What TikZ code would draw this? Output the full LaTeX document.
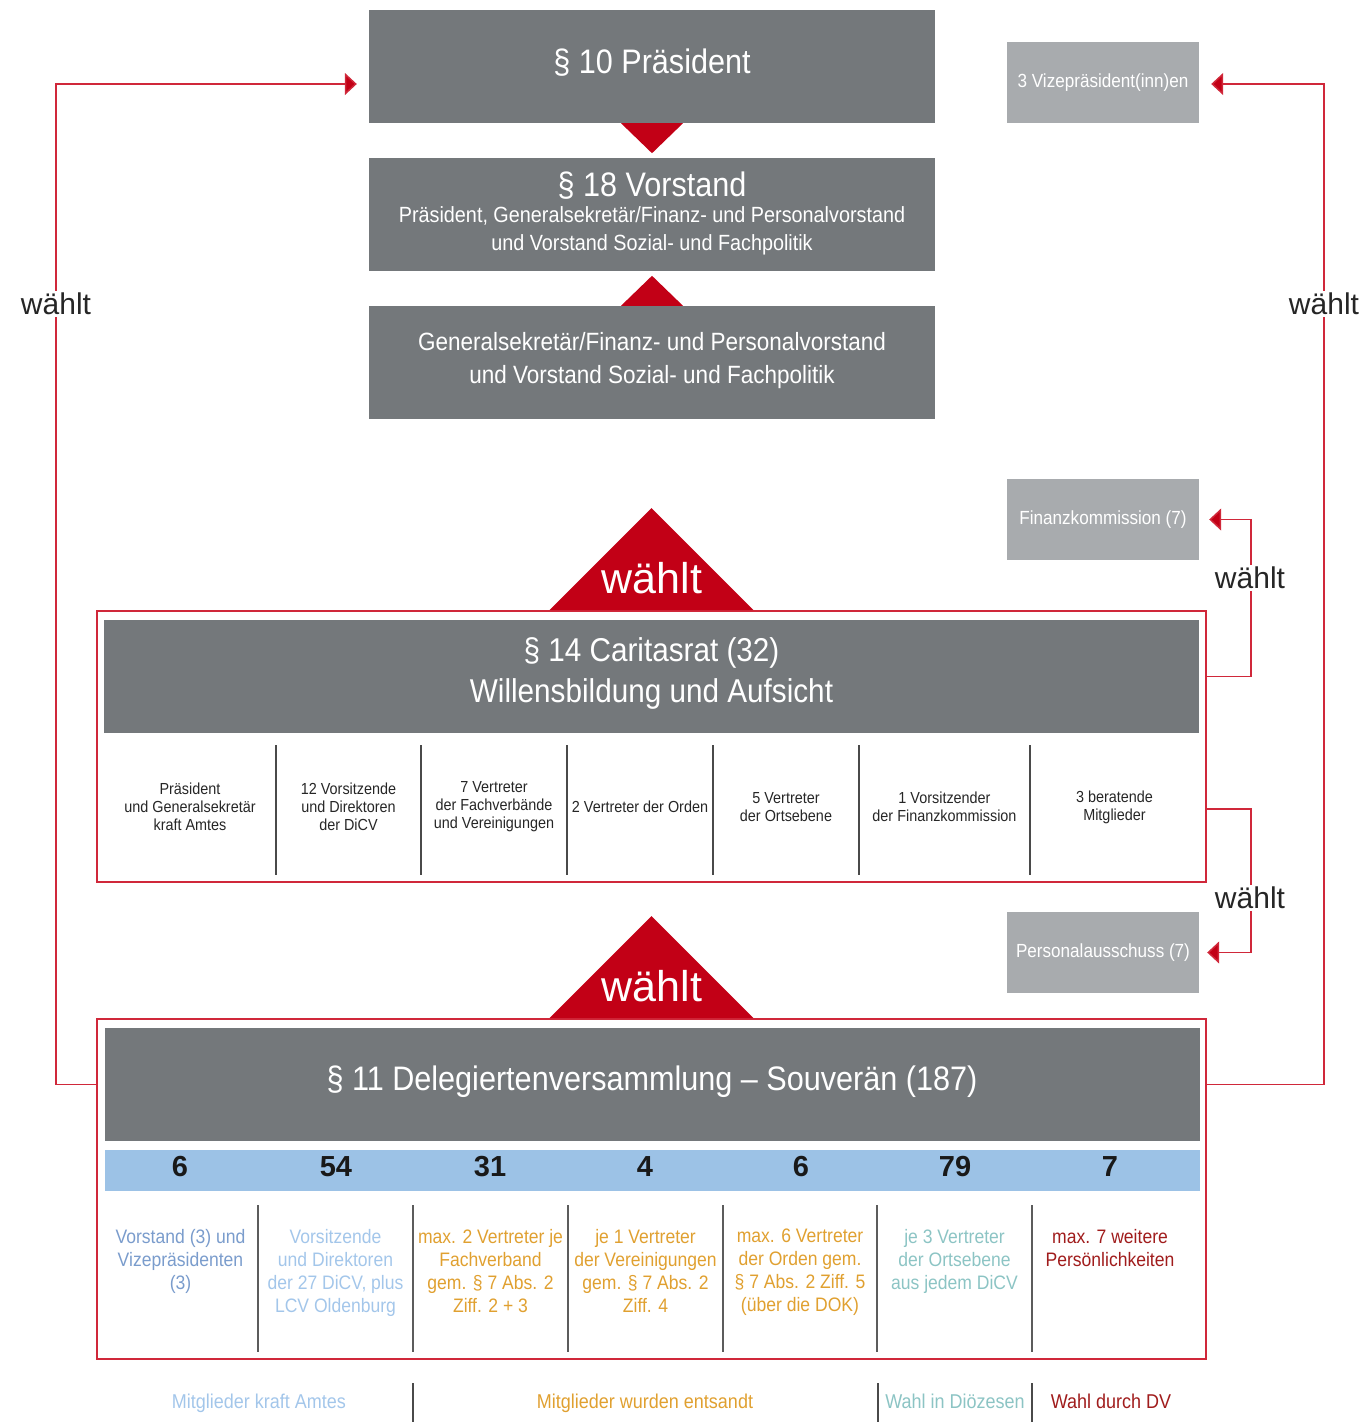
\documentclass[tikz,border=0pt]{standalone}
\usepackage{fontspec}
\setmainfont{Liberation Sans}[FakeStretch=0.9]
\newfontfamily\widefont{Liberation Sans}
\usetikzlibrary{arrows.meta,calc}
\definecolor{boxgray}{HTML}{74787B}
\definecolor{lightgray}{HTML}{A8ABAE}
\definecolor{redtri}{HTML}{C20016}
\definecolor{redline}{HTML}{D0283A}
\definecolor{bandblue}{HTML}{9CC2E6}
\definecolor{colblue}{HTML}{7A9CCC}
\definecolor{collblue}{HTML}{A3C6EA}
\definecolor{colorange}{HTML}{E0A030}
\definecolor{colteal}{HTML}{8CC4C4}
\definecolor{coldred}{HTML}{A01C1C}
\definecolor{sepgray}{HTML}{4A4A4A}
\begin{document}
\begin{tikzpicture}[x=1pt,y=-1pt,
  darkbox/.style={fill=boxgray, text=white, minimum width=566pt, minimum height=113pt, inner sep=0pt, align=center},
  lightbox/.style={fill=lightgray, text=white, minimum width=192pt, minimum height=81pt, inner sep=0pt, font=\fontsize{19}{22}\selectfont},
  wtext/.style={text=white, inner sep=0pt, align=center},
  frame/.style={draw=redline, line width=1.6pt, inner sep=0pt},
  conn/.style={draw=redline, line width=1.5pt, -{Triangle[length=12pt,width=22pt,fill=redtri]}},
  wlabel/.style={fill=white, inner sep=2pt, font=\widefont\fontsize{30}{34}\selectfont, text=black!85},
  tri/.style={fill=redtri},
  bigw/.style={text=white, inner sep=0pt, font=\widefont\fontsize{43}{48}\selectfont},
  crcol/.style={text=black!85, inner sep=0pt, align=center, font=\fontsize{16}{18}\selectfont},
  dvcol/.style={inner sep=0pt, align=center, anchor=north, font=\fontsize{19.5}{23}\selectfont},
  num/.style={inner sep=0pt, text=black!90, font=\widefont\bfseries\fontsize{29}{32}\selectfont},
  sep/.style={draw=sepgray, line width=1.4pt},
  legend/.style={inner sep=0pt, font=\fontsize{20}{22}\selectfont}
]
\useasboundingbox (0,0) rectangle (1366,1422);

% top boxes
\node[darkbox] (pres) at (652,66.5) {};
\node[wtext, font=\fontsize{34}{40}\selectfont] (prest) at (652,63) {§ 10 Präsident};
\node[darkbox] (vor) at (652,214.5) {};
\node[wtext, font=\fontsize{34}{40}\selectfont] (vort) at (652,186) {§ 18 Vorstand};
\node[wtext, font=\fontsize{22}{28}\selectfont] (vors) at (652,231) {Präsident, Generalsekretär/Finanz- und Personalvorstand\\und Vorstand Sozial- und Fachpolitik};
\node[darkbox] (gs) at (652,362.5) {};
\node[wtext, font=\fontsize{25}{33}\selectfont] (gst) at (652,360.5) {Generalsekretär/Finanz- und Personalvorstand\\und Vorstand Sozial- und Fachpolitik};

\fill[tri] ([xshift=-31pt]pres.south) -- ([xshift=31pt]pres.south) -- ([yshift=-30pt]pres.south) -- cycle;
\fill[tri] ([xshift=-31pt]gs.north) -- ([xshift=31pt]gs.north) -- ([yshift=30pt]gs.north) -- cycle;

% side boxes
\node[lightbox] (vize) at (1103,82.5) {3 Vizepräsident(inn)en};
\node[lightbox] (fin) at (1103,519.5) {Finanzkommission (7)};
\node[lightbox] (pers) at (1103,952.5) {Personalausschuss (7)};

% Caritasrat
\node[frame, minimum width=1109pt, minimum height=271pt] (crframe) at (651.5,746.5) {};
\node[darkbox, minimum width=1095pt] (crtitle) at (651.5,676.5) {};
\node[wtext, font=\fontsize{33}{41}\selectfont] (crtt) at (651.5,673.5) {§ 14 Caritasrat (32)\\Willensbildung und Aufsicht};
\fill[tri] ([xshift=-102pt]crframe.north) -- ([xshift=102pt]crframe.north) -- ([yshift=102pt]crframe.north) -- cycle;
\node[bigw] (w1) at (652,578) {wählt};

\foreach \x in {276,421,567,713,859,1030} \draw[sep] (\x,745) -- (\x,875);
\node[crcol] (cr1) at (190,807) {Präsident\\und Generalsekretär\\kraft Amtes};
\node[crcol] (cr2) at (348.5,807) {12 Vorsitzende\\und Direktoren\\der DiCV};
\node[crcol] (cr3) at (494,807) {7 Vertreter\\der Fachverbände\\und Vereinigungen};
\node[crcol] (cr4) at (640,807) {2 Vertreter der Orden};
\node[crcol] (cr5) at (786,807) {5 Vertreter\\der Ortsebene};
\node[crcol] (cr6) at (944.5,807) {1 Vorsitzender\\der Finanzkommission};
\node[crcol] (cr7) at (1114.5,807) {3 beratende\\Mitglieder};

% Delegiertenversammlung
\node[frame, minimum width=1109pt, minimum height=340pt] (dvframe) at (651.5,1189) {};
\node[darkbox, minimum width=1095pt] (dvtitle) at (652,1084.5) {};
\node[wtext, font=\fontsize{34}{40}\selectfont] (dvtt) at (652,1082) {§ 11 Delegiertenversammlung – Souverän (187)};
\fill[tri] ([xshift=-102pt]dvframe.north) -- ([xshift=102pt]dvframe.north) -- ([yshift=102pt]dvframe.north) -- cycle;
\node[bigw] (w2) at (652,986) {wählt};

\node[fill=bandblue, minimum width=1095pt, minimum height=41pt, inner sep=0pt] (band) at (652,1170.5) {};
\node[num] (n1) at (180,1167) {6};
\node[num] (n2) at (336,1167) {54};
\node[num] (n3) at (490,1167) {31};
\node[num] (n4) at (645,1167) {4};
\node[num] (n5) at (801,1167) {6};
\node[num] (n6) at (955,1167) {79};
\node[num] (n7) at (1110,1167) {7};

\foreach \x in {258,413,568,723,877,1032} \draw[sep, draw=sepgray!90] (\x,1205) -- (\x,1352);
\node[dvcol, text=colblue] (d1) at (180.5,1229) {Vorstand (3) und\\Vizepräsidenten\\(3)};
\node[dvcol, text=collblue] (d2) at (335.5,1229) {Vorsitzende\\und Direktoren\\der 27 DiCV, plus\\LCV Oldenburg};
\node[dvcol, text=colorange] (d3) at (490.5,1229) {max. 2 Vertreter je\\Fachverband\\gem. § 7 Abs. 2\\Ziff. 2 + 3};
\node[dvcol, text=colorange] (d4) at (645.5,1229) {je 1 Vertreter\\der Vereinigungen\\gem. § 7 Abs. 2\\Ziff. 4};
\node[dvcol, text=colorange] (d5) at (800,1229) {max. 6 Vertreter\\der Orden gem.\\§ 7 Abs. 2 Ziff. 5\\(über die DOK)};
\node[dvcol, text=colteal] (d6) at (954.5,1229) {je 3 Vertreter\\der Ortsebene\\aus jedem DiCV};
\node[dvcol, text=coldred] (d7) at (1110,1229) {max. 7 weitere\\Persönlichkeiten};

% legend
\node[legend, text=collblue, anchor=base] (l1) at (259,1408) {Mitglieder kraft Amtes};
\node[legend, text=colorange, anchor=base] (l2) at (645,1408) {Mitglieder wurden entsandt};
\node[legend, text=colteal, anchor=base] (l3) at (955,1408) {Wahl in Diözesen};
\node[legend, text=coldred, anchor=base] (l4) at (1111,1408) {Wahl durch DV};
\foreach \x in {413,878,1032} \draw[sep, line width=1.2pt] (\x,1383) -- (\x,1422);

% connectors
\coordinate (ly) at (0,84);
\coordinate (py) at (0,809);
\draw[conn] (dvframe.west |- dvtitle.center) -| (56,84) -- ([xshift=-12pt]pres.west |- ly);
\draw[conn] (dvframe.east |- dvtitle.center) -| (1324,84) -- ([xshift=12pt]vize.east |- ly);
\draw[conn] (crframe.east |- crtitle.center) -- ++(44,0) |- ([xshift=10pt]fin.east);
\draw[conn] (crframe.east |- py) -- ++(44,0) |- ([xshift=8pt]pers.east);
\node[wlabel] (wl) at (56,304) {wählt};
\node[wlabel] (wr) at (1324,304) {wählt};
\node[wlabel] (wf) at (1250,578) {wählt};
\node[wlabel] (wp) at (1250,898) {wählt};
\end{tikzpicture}
\end{document}
